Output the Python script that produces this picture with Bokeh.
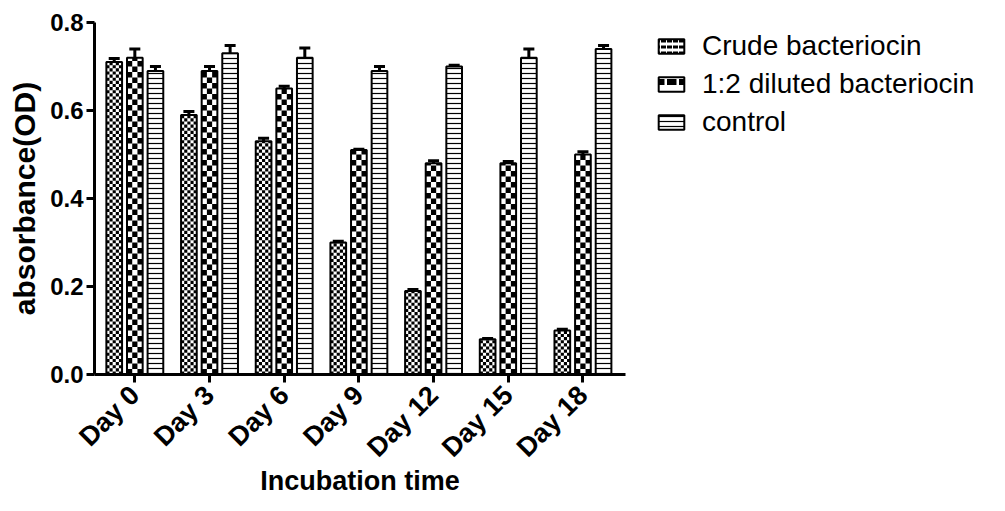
import math
from bokeh.plotting import figure
from bokeh.models import (ColumnDataSource, Range1d, FixedTicker, Legend, LegendItem,
                          Whisker, TeeHead, CustomJSTickFormatter)
from bokeh.core.properties import value
from bokeh.transform import dodge
from bokeh.embed import file_html
from bokeh.resources import INLINE

days = ["Day 0", "Day 3", "Day 6", "Day 9", "Day 12", "Day 15", "Day 18"]
crude = [0.71, 0.59, 0.53, 0.30, 0.19, 0.08, 0.10]
crude_err = [0.008, 0.008, 0.007, 0.003, 0.003, 0.002, 0.003]
diluted = [0.72, 0.69, 0.65, 0.51, 0.48, 0.48, 0.50]
diluted_err = [0.02, 0.01, 0.005, 0.002, 0.006, 0.004, 0.006]
control = [0.69, 0.73, 0.72, 0.69, 0.70, 0.72, 0.74]
control_err = [0.01, 0.018, 0.022, 0.01, 0.003, 0.02, 0.008]
series_names = ["Crude bacteriocin", "1:2 diluted bacteriocin", "control"]

idx = list(range(len(days)))
src = ColumnDataSource(dict(
    x=idx,
    crude=crude, crude_up=[v + e for v, e in zip(crude, crude_err)],
    diluted=diluted, diluted_up=[v + e for v, e in zip(diluted, diluted_err)],
    control=control, control_up=[v + e for v, e in zip(control, control_err)],
))

FONT = "Liberation Sans"

p = figure(frame_width=531, frame_height=352, output_backend="svg", toolbar_location=None,
           x_range=Range1d(-0.54, 6.57), y_range=Range1d(0, 0.8),
           min_border_left=94, min_border_right=364, min_border_top=22,
           min_border_bottom=131)
p.outline_line_color = None
p.xgrid.visible = False
p.ygrid.visible = False
p.background_fill_color = "white"

bw = 0.21
off = 0.276


def checker_cells(values, offset, ncols, cell_h):
    """Black cells of a checkerboard filling each bar (derived from the bar values)."""
    L, R, B, T = [], [], [], []
    cw = bw / ncols
    for i, v in zip(idx, values):
        x0 = i + offset - bw / 2
        nrows = int(math.ceil(v / cell_h))
        for k in range(nrows):
            b = k * cell_h
            t = min(v, b + cell_h)
            for j in range(ncols):
                if (j + k) % 2 == 0:
                    L.append(x0 + j * cw)
                    R.append(x0 + (j + 1) * cw)
                    B.append(b)
                    T.append(t)
    return ColumnDataSource(dict(left=L, right=R, bottom=B, top=T))


# white bodies
for key, o in (("crude", -off), ("diluted", 0), ("control", off)):
    kw = {}
    if key == "control":
        kw = dict(hatch_pattern=value("horizontal_line"), hatch_scale=5, hatch_weight=1.2,
                  hatch_color="black")
    p.vbar(x=dodge("x", o, range=p.x_range), top=key, width=bw, bottom=0, source=src,
           fill_color="white", line_color=None, **kw)

# checker fills
p.quad(source=checker_cells(crude, -off, 5, 0.0071), left="left", right="right",
       bottom="bottom", top="top", fill_color="black", line_color=None)
p.quad(source=checker_cells(diluted, 0, 3, 0.0125), left="left", right="right",
       bottom="bottom", top="top", fill_color="black", line_color=None)

# outlines
for key, o in (("crude", -off), ("diluted", 0), ("control", off)):
    p.vbar(x=dodge("x", o, range=p.x_range), top=key, width=bw, bottom=0, source=src,
           fill_color=None, line_color="black", line_width=2)

for key, o in (("crude", -off), ("diluted", 0), ("control", off)):
    w = Whisker(source=src, base=dodge("x", o, range=p.x_range), lower=key, upper=key + "_up",
                dimension="height", line_width=3, line_color="black",
                upper_head=TeeHead(size=11, line_width=3, line_color="black"),
                lower_head=None)
    p.add_layout(w)

# legend proxies (hidden renderers, used only for the legend swatches)
lg_common = dict(source=src, x="x", width=bw, bottom=0, fill_color="white",
                 line_color="black", line_width=2, hatch_color="black")
l1 = p.vbar(top="crude", hatch_pattern=value("horizontal_dash"), hatch_scale=6,
            hatch_weight=3, **lg_common)
l2 = p.vbar(top="diluted", hatch_pattern=value("horizontal_dash"), hatch_scale=12,
            hatch_weight=6, **lg_common)
l3 = p.vbar(top="control", hatch_pattern=value("horizontal_line"), hatch_scale=5,
            hatch_weight=1.2, **lg_common)
for r in (l1, l2, l3):
    r.visible = False

# axes
p.xaxis.ticker = FixedTicker(ticks=idx)
p.xaxis.major_label_overrides = {i: d for i, d in zip(idx, days)}
p.xaxis.major_label_orientation = 0.785398
p.yaxis.ticker = FixedTicker(ticks=[0.0, 0.2, 0.4, 0.6, 0.8])
p.yaxis.formatter = CustomJSTickFormatter(code="return tick.toFixed(1);")

for ax in (p.xaxis, p.yaxis):
    ax.axis_line_width = 3
    ax.axis_line_color = "black"
    ax.major_tick_line_width = 3
    ax.major_tick_line_color = "black"
    ax.major_tick_out = 8
    ax.major_tick_in = 0
    ax.minor_tick_line_color = None
    ax.major_label_text_font = FONT
    ax.major_label_text_font_style = "bold"
    ax.major_label_text_color = "black"
    ax.axis_label_text_font = FONT
    ax.axis_label_text_font_style = "bold"
    ax.axis_label_text_color = "black"
    ax.major_label_standoff = 3

p.xaxis.major_label_standoff = 8
p.xaxis.major_label_text_font_size = "27px"
p.yaxis.major_label_text_font_size = "24px"
p.xaxis.axis_label_text_font_size = "27px"
p.yaxis.axis_label_text_font_size = "30px"
p.xaxis.axis_label = "Incubation time"
p.yaxis.axis_label = "absorbance(OD)"
p.xaxis.axis_label_standoff = -10
p.yaxis.axis_label_standoff = 6

legend = Legend(items=[LegendItem(label=series_names[0], renderers=[l1]),
                       LegendItem(label=series_names[1], renderers=[l2]),
                       LegendItem(label=series_names[2], renderers=[l3])],
                location=(30, 236), padding=0, margin=0, spacing=6,
                glyph_width=32, glyph_height=18, label_standoff=15,
                border_line_color=None, background_fill_alpha=0,
                label_text_font=FONT, label_text_font_size="28px",
                label_text_color="black", label_text_baseline="middle")
p.add_layout(legend, "right")

open("out.html", "w").write(file_html(p, INLINE))
